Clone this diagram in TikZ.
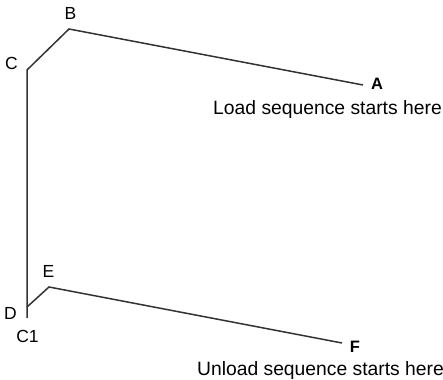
\documentclass[tikz,border=0pt]{standalone}
\usepackage{fontspec}
\setmainfont{Liberation Sans}
\begin{document}
\begin{tikzpicture}[x=1pt,y=1pt,
  seg/.style={line width=1.5pt, draw=black!80, line join=miter},
  lbl/.style={anchor=base, inner sep=0pt, font=\fontsize{17.5}{17.5}\selectfont, text=black},
  endlbl/.style={lbl, font=\fontsize{16.5}{16.5}\selectfont\bfseries},
  note/.style={anchor=base, inner sep=0pt, font=\fontsize{19.3}{19.3}\selectfont, text=black}]
\useasboundingbox (0,0) rectangle (443,379);
% vertices
\coordinate (pA) at (363,294);
\coordinate (pB) at (69,350);
\coordinate (pC) at (27,309);
\coordinate (pBot) at (27,61);
\coordinate (pD) at (27,72);
\coordinate (pE) at (49,92);
\coordinate (pF) at (342,36);
% paths
\draw[seg] (pA) -- (pB) -- (pC) -- (pBot);
\draw[seg] (pD) -- (pE) -- (pF);
% labels
\node[lbl] (lB) at (70.5,359) {B};
\node[lbl] (lC) at (11.5,309) {C};
\node[lbl] (lE) at (48.5,101) {E};
\node[lbl] (lD) at (10.5,59) {D};
\node[lbl] (lC1) at (27.5,36) {C1};
\node[endlbl] (lA) at (377,289) {A};
\node[endlbl] (lF) at (355,27) {F};
\node[note] (load) at (327.5,264) {Load sequence starts here};
\node[note] (unload) at (320.5,4) {Unload sequence starts here};
\end{tikzpicture}
\end{document}
